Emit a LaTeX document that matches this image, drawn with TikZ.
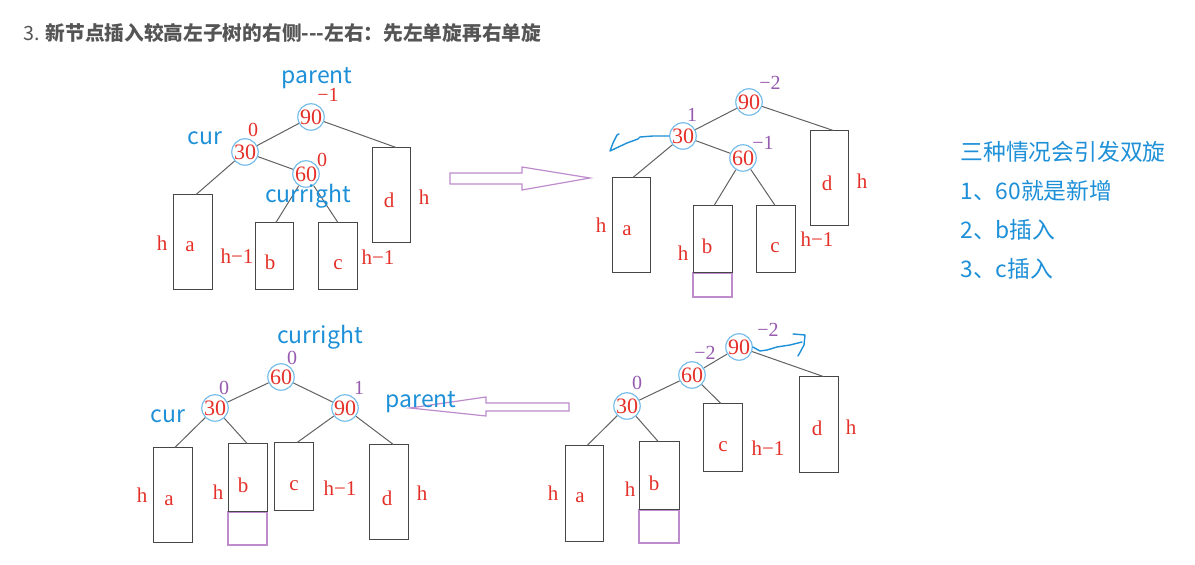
\documentclass[tikz,border=0pt]{standalone}
\usepackage{fontspec}
\setmainfont{Liberation Serif}
\newfontfamily\cjk{Noto Sans CJK SC}
\usetikzlibrary{calc}
\definecolor{tblue}{RGB}{30,144,216}
\definecolor{cblue}{RGB}{120,190,235}
\definecolor{tred}{RGB}{228,48,40}
\definecolor{tpurp}{RGB}{150,90,175}
\definecolor{lpurp}{RGB}{190,140,205}
\definecolor{tgray}{RGB}{85,85,85}
\definecolor{ecol}{RGB}{70,70,70}
\tikzset{
  nd/.style={circle, draw=cblue, line width=0.6pt, minimum size=12.5pt, inner sep=0pt, text=tred, font=\fontsize{11}{11}\selectfont},
  bx/.style={draw=ecol, line width=0.5pt, inner sep=0pt},
  pbx/.style={draw=lpurp, line width=0.6pt, inner sep=0pt},
  lbl/.style={text=tred, font=\fontsize{10.5}{10.5}\selectfont, inner sep=0pt},
  redbal/.style={text=tred, font=\fontsize{10}{10}\selectfont, inner sep=0pt},
  bal/.style={text=tpurp, font=\fontsize{10}{10}\selectfont, inner sep=0pt},
  blab/.style={text=tblue, font=\cjk\fontsize{11.5}{11.5}\selectfont, inner sep=0pt},
  side/.style={text=tblue, font=\cjk\fontsize{11.4}{11.4}\selectfont, inner sep=0pt, anchor=west},
  edge/.style={draw=ecol!85, line width=0.5pt},
  hollow/.style={draw=lpurp, line width=0.6pt, line join=miter},
  hand/.style={draw=tblue, line width=0.7pt, line cap=round, line join=round}
}
\begin{document}
\begin{tikzpicture}[x=0.5pt,y=-0.5pt]
\useasboundingbox[fill=white] (0,0) rectangle (1195,565);

% title
\node[anchor=west, inner sep=0pt, text=tgray, font=\cjk\fontsize{9.85}{9.85}\selectfont] (title) at (23,33) {3. {\bfseries 新节点插入较高左子树的右侧---左右：先左单旋再右单旋}};

% ===== Tree 1 (top-left) =====
\node[bx, minimum width=19.5pt, minimum height=47.5pt] (t1a) at (192.5,242.5) {};
\node[bx, minimum width=19pt, minimum height=33.5pt] (t1b) at (274,256.5) {};
\node[bx, minimum width=19.5pt, minimum height=33.5pt] (t1c) at (337.5,256.5) {};
\node[bx, minimum width=19pt, minimum height=47.5pt] (t1d) at (391,195.5) {};
\node[nd] (t1n90) at (311,117) {90};
\node[nd] (t1n30) at (245,152) {30};
\node[nd] (t1n60) at (306,174) {60};
\draw[edge] (t1n90) -- (t1n30);
\draw[edge] (t1n30) -- (t1n60);
\draw[edge] (t1n90) -- ($(t1d.north west)!0.63!(t1d.north east)$);
\draw[edge] (t1n30) -- ($(t1a.north west)!0.59!(t1a.north east)$);
\draw[edge] (t1n60) -- ($(t1b.north west)!0.55!(t1b.north east)$);
\draw[edge] (t1n60) -- ($(t1c.north west)!0.51!(t1c.north east)$);
\node[blab] (t1par) at (317,78) {parent};
\node[redbal] (t1b90) at (328,95) {−1};
\node[redbal] (t1b30) at (253,130) {0};
\node[blab] (t1cur) at (205,138) {cur};
\node[redbal] (t1b60) at (322,160) {0};
\node[blab] (t1cr) at (308,196) {curright};
\node[lbl] (t1la) at (190,247) {a};
\node[lbl] (t1lb) at (270,262) {b};
\node[lbl] (t1lc) at (338,265) {c};
\node[lbl] (t1ld) at (389,200) {d};
\node[lbl] (t1ha) at (162,243) {h};
\node[lbl] (t1hb) at (237,256) {h−1};
\node[lbl] (t1hc) at (378,257) {h−1};
\node[lbl] (t1hd) at (424,197) {h};

% top hollow arrow
\draw[hollow] (450,173) -- (522,173) -- (522,167) -- (590,178) -- (522,190) -- (522,184) -- (450,184) -- cycle;

% ===== Tree 2 (top-right) =====
\node[bx, minimum width=19pt, minimum height=47.5pt] (t2a) at (631,225.5) {};
\node[pbx, minimum width=19.5pt, minimum height=12pt] (t2bx) at (712.5,285) {};
\node[bx, minimum width=19.5pt, minimum height=33.5pt] (t2b) at (712.5,239.5) {};
\node[bx, minimum width=19.5pt, minimum height=33.5pt] (t2c) at (775.5,239.5) {};
\node[bx, minimum width=19pt, minimum height=47.5pt] (t2d) at (829,178.5) {};
\node[nd] (t2n90) at (749,102) {90};
\node[nd] (t2n30) at (683,136) {30};
\node[nd] (t2n60) at (743,158) {60};
\draw[edge] (t2n90) -- (t2n30);
\draw[edge] (t2n30) -- (t2n60);
\draw[edge] (t2n90) -- ($(t2d.north west)!0.61!(t2d.north east)$);
\draw[edge] (t2n30) -- ($(t2a.north west)!0.55!(t2a.north east)$);
\draw[edge] (t2n60) -- ($(t2b.north west)!0.54!(t2b.north east)$);
\draw[edge] (t2n60) -- ($(t2c.north west)!0.49!(t2c.north east)$);
\node[bal] (t2b90) at (770,83) {−2};
\node[bal] (t2b30) at (692,115) {1};
\node[bal] (t2b60) at (763,143) {−1};
\draw[hand] (t2n30.west) -- (653,136) -- (640,137) -- (638,139) -- (627,143) -- (610,151) -- (613,143) -- (617,135) -- (619,134);
\node[lbl] (t2la) at (627,231) {a};
\node[lbl] (t2lb) at (707,246) {b};
\node[lbl] (t2lc) at (775,248) {c};
\node[lbl] (t2ld) at (827,183) {d};
\node[lbl] (t2ha) at (601,225) {h};
\node[lbl] (t2hb) at (683,253) {h};
\node[lbl] (t2hc) at (817,239) {h−1};
\node[lbl] (t2hd) at (862,181) {h};

% side text
\node[side] (s1) at (960,152) {三种情况会引发双旋};
\node[side] (s2) at (960,191) {1、60就是新增};
\node[side] (s3) at (960,230) {2、b插入};
\node[side] (s4) at (960,269) {3、c插入};

% ===== Tree 3 (bottom-left) =====
\node[bx, minimum width=19.5pt, minimum height=47.5pt] (t3a) at (172.5,495.5) {};
\node[pbx, minimum width=19.5pt, minimum height=16.5pt] (t3bx) at (247.5,528.5) {};
\node[bx, minimum width=19.5pt, minimum height=34pt] (t3b) at (247.5,478) {};
\node[bx, minimum width=19.5pt, minimum height=34pt] (t3c) at (293.5,477) {};
\node[bx, minimum width=19.5pt, minimum height=47.5pt] (t3d) at (388.5,492.5) {};
\node[nd] (t3n60) at (281,377) {60};
\node[nd] (t3n30) at (215,408) {30};
\node[nd] (t3n90) at (345,408) {90};
\draw[edge] (t3n60) -- (t3n30);
\draw[edge] (t3n60) -- (t3n90);
\draw[edge] (t3n30) -- ($(t3a.north west)!0.56!(t3a.north east)$);
\draw[edge] (t3n30) -- ($(t3b.north west)!0.49!(t3b.north east)$);
\draw[edge] (t3n90) -- ($(t3c.north west)!0.59!(t3c.north east)$);
\draw[edge] (t3n90) -- ($(t3d.north west)!0.62!(t3d.north east)$);
\node[blab] (t3cr) at (320,337) {curright};
\node[bal] (t3b60) at (292,358) {0};
\node[bal] (t3b30) at (224,388) {0};
\node[blab] (t3cur) at (168,416) {cur};
\node[bal] (t3b90) at (359,388) {1};
\node[lbl] (t3la) at (169,501) {a};
\node[lbl] (t3lb) at (243,485) {b};
\node[lbl] (t3lc) at (294,486) {c};
\node[lbl] (t3ld) at (387,498) {d};
\node[lbl] (t3ha) at (142,495) {h};
\node[lbl] (t3hb) at (218,492) {h};
\node[lbl] (t3hc) at (340,488) {h−1};
\node[lbl] (t3hd) at (422,493) {h};

% bottom hollow arrow
\draw[hollow] (569,403) -- (486,403) -- (486,397) -- (410,408) -- (486,416) -- (486,411) -- (569,411) -- cycle;
\node[blab] (t3par) at (421,402) {parent};

% ===== Tree 4 (bottom-right) =====
\node[bx, minimum width=19pt, minimum height=48pt] (t4a) at (584,494) {};
\node[pbx, minimum width=20pt, minimum height=16.5pt] (t4bx) at (659,526.5) {};
\node[bx, minimum width=20pt, minimum height=34pt] (t4b) at (659,476) {};
\node[bx, minimum width=19.5pt, minimum height=34pt] (t4c) at (722.5,438) {};
\node[bx, minimum width=19.5pt, minimum height=48pt] (t4d) at (818.5,425) {};
\node[nd] (t4n90) at (739,347) {90};
\node[nd] (t4n60) at (692,375) {60};
\node[nd] (t4n30) at (627,406) {30};
\draw[edge] (t4n90) -- (t4n60);
\draw[edge] (t4n60) -- (t4n30);
\draw[edge] (t4n90) -- ($(t4d.north west)!0.62!(t4d.north east)$);
\draw[edge] (t4n60) -- ($(t4c.north west)!0.46!(t4c.north east)$);
\draw[edge] (t4n30) -- ($(t4a.north west)!0.58!(t4a.north east)$);
\draw[edge] (t4n30) -- ($(t4b.north west)!0.48!(t4b.north east)$);
\node[bal] (t4b90) at (768,330) {−2};
\node[bal] (t4b60) at (705,353) {−2};
\node[bal] (t4b30) at (637,383) {0};
\draw[hand] (t4n90.east) -- (760,351) -- (767,350) -- (777,347) -- (790,345) -- (802,342);
\draw[hand] (793,334) -- (805,335) -- (804,345) -- (798,356);
\node[lbl] (t4la) at (580,498) {a};
\node[lbl] (t4lb) at (654,483) {b};
\node[lbl] (t4lc) at (723,447) {c};
\node[lbl] (t4ld) at (817,428) {d};
\node[lbl] (t4ha) at (553,493) {h};
\node[lbl] (t4hb) at (630,489) {h};
\node[lbl] (t4hc) at (768,448) {h−1};
\node[lbl] (t4hd) at (851,427) {h};
\end{tikzpicture}
\end{document}
